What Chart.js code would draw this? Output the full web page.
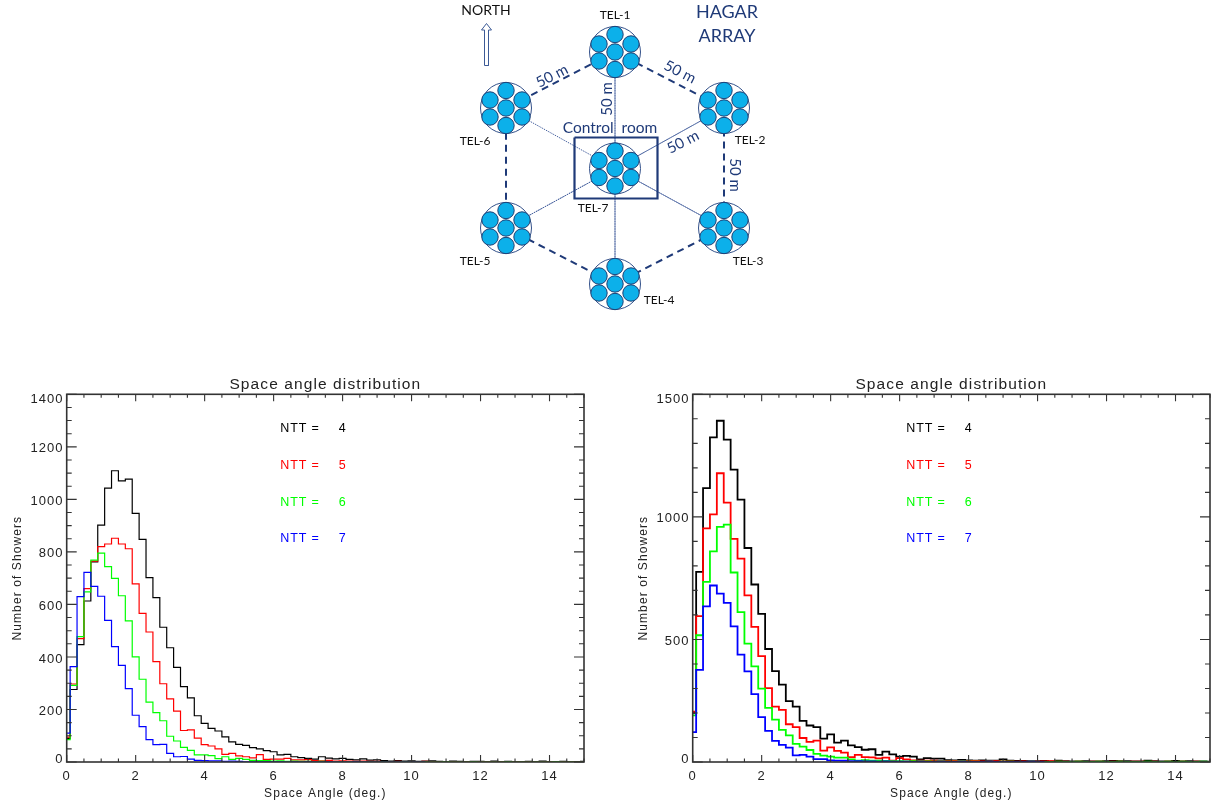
<!DOCTYPE html>
<html><head><meta charset="utf-8">
<style>html,body{margin:0;padding:0;background:#fff;width:1221px;height:805px;overflow:hidden}canvas{position:absolute;display:block}</style>
<script src="https://cdn.jsdelivr.net/npm/chart.js@4"></script>
</head><body>
<canvas id="diagram" width="340" height="330" style="left:440px;top:0"></canvas>
<canvas id="left" width="600" height="440" style="left:0;top:365px"></canvas>
<canvas id="right" width="600" height="440" style="left:626px;top:365px"></canvas>
<script>
// ---------- histogram data ----------
const angleBins = [0,0.2,0.4,0.6,0.8,1,1.2,1.4,1.6,1.8,2,2.2,2.4,2.6,2.8,3,3.2,3.4,3.6,3.8,4,4.2,4.4,4.6,4.8,5,5.2,5.4,5.6,5.8,6,6.2,6.4,6.6,6.8,7,7.2,7.4,7.6,7.8,8,8.2,8.4,8.6,8.8,9,9.2,9.4,9.6,9.8,10,10.2,10.4,10.6,10.8,11,11.2,11.4,11.6,11.8,12,12.2,12.4,12.6,12.8,13,13.2,13.4,13.6,13.8,14,14.2,14.4,14.6,14.8,15];
const nttValues = [4,5,6,7];
const nttColors = ['#000000','#ff0000','#00ff00','#0000ff'];

const leftNtt4 = [90,276,447,613,762,902,1043,1109,1070,1077,947,848,702,626,513,435,360,287,244,176,147,128,118,96,77,67,63,55,50,43,39,27,29,20,17,14,11,20,15,12,14,10,8,12,7,8,5,3,5,3,4,2,3,4,2,1,3,2,1,2,2,1,3,1,2,1,1,2,1,3,1,1,2,1,1,2];
const leftNtt5 = [95,297,470,660,765,820,830,852,830,812,678,566,495,382,298,240,194,120,122,91,66,61,50,29,33,23,20,16,28,10,11,11,14,8,8,9,5,4,6,3,4,3,2,3,2,2,1,1,2,1,1,1,2,1,0,1,1,0,1,0,1,1,0,1,0,1,0,1,0,0,1,0,1,0,1,0];
const leftNtt6 = [85,292,477,648,769,795,744,699,633,537,400,315,228,188,157,98,80,56,44,27,27,24,13,20,10,14,10,6,5,5,3,4,2,3,2,2,1,2,1,1,1,1,0,1,1,0,1,0,0,1,0,0,1,0,0,1,0,0,0,1,0,0,0,0,1,0,0,0,0,0,0,1,0,0,0,0];
const leftNtt7 = [110,363,630,722,669,631,539,439,368,279,178,135,85,66,67,33,20,21,11,6,5,4,4,2,3,2,1,1,1,1,1,1,0,1,0,1,0,0,1,0,0,0,1,0,0,0,0,0,0,0,0,0,0];

const rightNtt4 = [200,776,1117,1324,1392,1315,1193,1070,873,724,604,461,371,316,248,226,168,149,142,95,113,79,87,68,61,50,52,29,42,31,22,25,22,11,16,14,14,8,7,9,7,6,7,5,6,11,5,4,4,3,3,4,2,6,3,2,2,3,2,2,3,4,3,3,2,2,5,3,2,2,4,2,3,2,2,1];
const rightNtt5 = [205,595,953,1010,1178,1058,910,830,680,551,432,301,226,213,154,142,98,82,87,46,60,45,38,20,29,20,19,15,18,5,16,11,7,5,6,6,4,3,4,3,3,4,2,2,3,2,2,1,2,1,1,2,3,1,1,0,1,0,1,1,0,1,1,0,1,1,0,1,0,1,0,1,0,1,0,0];
const rightNtt6 = [190,517,735,859,959,968,773,611,483,390,299,221,173,131,109,74,63,49,33,26,22,18,18,11,5,8,5,6,4,3,3,2,3,2,2,1,2,1,1,2,1,1,0,1,0,1,1,0,0,1,0,0,0,1,0,0,1,0,0,1,0,0,1,0,0,0,1,0,0,1,0,1,0,0,1,0];
const rightNtt7 = [122,376,635,720,687,649,553,438,370,277,183,127,86,70,59,27,29,22,12,12,7,6,5,3,3,2,2,1,2,1,1,1,0,1,0,0,1,0,0,1,0,0,0,1,0,0,0,0,0,1,0,0];

// ---------- axis ticks ----------
const xTickLabels = [0,2,4,6,8,10,12,14];
const xMinorEvery = 0.5;
const leftYLabels = [0,200,400,600,800,1000,1200,1400];
const leftYMinorEvery = 50;
const rightYLabels = [0,500,1000,1500];
const rightYMinorEvery = 100;

// ---------- diagram data (drawn in a coordinate plane of its own) ----------
const telescopeX = [615,724,724,615,506,506,615];
const telescopeY = [52,108,228,284,228,108,168.5];
const mirrorOffsetX = [0,-16,16,0,-16,16,0];
const mirrorOffsetY = [-17.5,-8,-8,0,9,9,17.5];
const ringX = [615,724,724,615,506,506,615];
const ringY = [52,108,228,284,228,108,52];
const spokeTo = [0,1,2,3,4,5];
const roomX = [574.5,657.5,657.5,574.5,574.5];
const roomY = [137.5,137.5,198.5,198.5,137.5];
const arrowX = [484.5,484.5,481.5,486.5,491.5,488.5,488.5,484.5];
const arrowY = [65.5,30,30,23.5,30,30,65.5,65.5];
const diagramText = ['NORTH','TEL-1','HAGAR','ARRAY','50 m','50 m','50 m','50 m','50 m','Control  room','TEL-6','TEL-2','TEL-7','TEL-3','TEL-5','TEL-4'];
const textX = [486,615,727,727,552,680,607,735,683,610,475,750,593,748,475,659];
const textY = [10,15,12,36,76,72,99,175,142,128,141,140,208,261,261,300];
const textAngle = [0,0,0,0,-27,27,-90,90,-27,0,0,0,0,0,0,0];
const textSize = [14,12,18,18,15,15,15,15,15,15.5,12,12,12,12,12,12];
const textNavy = [0,0,1,1,1,1,1,1,1,1,0,0,0,0,0,0];

const NAVY = '#1f3a78', FONT = '"Liberation Sans"';

const idlFrame = {
  id:'idlFrame',
  beforeDraw(chart){
    chart.ctx.letterSpacing = '1.1px';
    const y = chart.scales.y;
    y.getLabelItems().forEach((it,i)=>{
      const n = y.ticks.length-1;
      it.options.translation[1] = y.getPixelForTick(i) + (i===0?-3:(i===n?5:2));
    });
  },
  afterDraw(chart,args,o){
    const {ctx,chartArea:a,scales:{x,y}} = chart;
    ctx.save();
    ctx.letterSpacing='0px';
    ctx.strokeStyle='#333';
    ctx.lineWidth=1.6;
    ctx.strokeRect(a.left,a.top,a.right-a.left,a.bottom-a.top);
    ctx.lineWidth=1.1;
    ctx.beginPath();
    for(let v=0;v<=x.max+1e-6;v+=xMinorEvery){
      const p=x.getPixelForValue(v), len=(Math.abs(v/2-Math.round(v/2))<1e-6)?7:3.5;
      ctx.moveTo(p,a.bottom);ctx.lineTo(p,a.bottom-len);
      ctx.moveTo(p,a.top);ctx.lineTo(p,a.top+len);
    }
    for(let v=0;v<=y.max+1e-6;v+=o.minorEvery){
      const p=y.getPixelForValue(v), len=(o.labels.includes(v))?10:5;
      ctx.moveTo(a.left,p);ctx.lineTo(a.left+len,p);
      ctx.moveTo(a.right,p);ctx.lineTo(a.right-len,p);
    }
    ctx.stroke();
    // NTT key
    ctx.letterSpacing='0.9px';
    ctx.font='12.5px '+FONT;ctx.textBaseline='middle';ctx.textAlign='left';
    nttValues.forEach((n,i)=>{
      ctx.fillStyle=nttColors[i];
      const yy=a.top+34.5+i*36.7;
      ctx.fillText('NTT =',a.left+213.5,yy);
      ctx.fillText(String(n),a.left+272,yy);
    });
    ctx.restore();
  }
};

function histogram(id,series,yLabels,yMax,minorEvery,lw){
  new Chart(document.getElementById(id),{
    type:'line',
    data:{labels:angleBins,datasets:series.map((s,i)=>({
      label:'NTT = '+nttValues[i],data:s,borderColor:nttColors[i],borderWidth:lw,
      stepped:'middle',pointRadius:0,fill:false,order:series.length-i
    }))},
    options:{
      responsive:false,animation:false,
      layout:{padding:{right:16,top:0,left:0,bottom:0},autoPadding:false},
      plugins:{
        legend:{display:false},tooltip:{enabled:false},
        title:{display:true,fullSize:false,text:'Space angle distribution',color:'#222',
          font:{family:FONT,size:15.5,weight:'normal'},padding:{top:10,bottom:0.7}},
        idlFrame:{labels:yLabels,minorEvery}
      },
      scales:{
        x:{type:'linear',min:0,max:15,
          afterFit(s){s.height=43},
          grid:{display:false,drawTicks:false},border:{display:false},
          afterBuildTicks(s){s.ticks=xTickLabels.map(v=>({value:v}))},
          ticks:{maxRotation:0,autoSkip:false,color:'#222',padding:7,font:{family:FONT,size:13},callback:v=>String(v)},
          title:{display:true,text:'Space Angle (deg.)',color:'#222',font:{family:FONT,size:12},padding:{top:0,bottom:4}}},
        y:{min:0,max:yMax,
          afterFit(s){s.width=66.7},
          grid:{display:false,drawTicks:false},border:{display:false},
          afterBuildTicks(s){s.ticks=yLabels.map(v=>({value:v}))},
          ticks:{autoSkip:false,color:'#222',padding:3,font:{family:FONT,size:13},callback:v=>String(v)},
          title:{display:true,text:'Number of Showers',color:'#222',font:{family:FONT,size:12},padding:{top:10,bottom:0}}}
      }
    },
    plugins:[idlFrame]
  });
}
histogram('left',[leftNtt4,leftNtt5,leftNtt6,leftNtt7],leftYLabels,1400,leftYMinorEvery,1.2);
histogram('right',[rightNtt4,rightNtt5,rightNtt6,rightNtt7],rightYLabels,1500,rightYMinorEvery,1.8);

// ---------- array diagram ----------
const pts=(xs,ys)=>xs.map((x,i)=>({x,y:ys[i]}));
const spokes=[];spokeTo.forEach(i=>{spokes.push({x:telescopeX[6],y:telescopeY[6]},{x:telescopeX[i],y:telescopeY[i]})});
const mirrors=[];telescopeX.forEach((tx,t)=>mirrorOffsetX.forEach((ox,m)=>mirrors.push({x:tx+ox,y:telescopeY[t]+mirrorOffsetY[m]})));
const line=(data,color,w,dash,order)=>({type:'scatter',data,showLine:true,borderColor:color,borderWidth:w,borderDash:dash,pointRadius:0,order,tension:0});
const diagramLabels={
  id:'diagramLabels',
  afterDraw(chart){
    const {ctx,scales:{x,y}}=chart;
    ctx.save();ctx.textAlign='center';ctx.textBaseline='middle';
    diagramText.forEach((t,i)=>{
      ctx.save();
      ctx.translate(x.getPixelForValue(textX[i]),y.getPixelForValue(textY[i]));
      ctx.rotate(textAngle[i]*Math.PI/180);
      ctx.font=textSize[i]+'px Lato';
      ctx.fillStyle=textNavy[i]?NAVY:'#111';
      ctx.fillText(t,0,0);
      ctx.restore();
    });
    ctx.restore();
  }
};
new Chart(document.getElementById('diagram'),{
  type:'scatter',
  data:{datasets:[
    {data:mirrors,pointRadius:8.2,pointBackgroundColor:'#0cb0ea',pointBorderColor:'#1c3f74',pointBorderWidth:1,order:1},
    {data:pts(telescopeX,telescopeY),pointRadius:25.5,pointBackgroundColor:'#fff',pointBorderColor:'#33518a',pointBorderWidth:1,order:2},
    line(pts(roomX,roomY),NAVY,2.2,[],3),
    line(pts(arrowX,arrowY),'#3c5a96',1,[],3),
    line(pts(ringX,ringY),NAVY,2,[7,5],4),
    line(spokes,'#4a64a0',1,[1.5,1],5)
  ]},
  options:{
    responsive:false,animation:false,layout:{padding:0,autoPadding:false},
    plugins:{legend:{display:false},tooltip:{enabled:false},title:{display:false}},
    scales:{
      x:{type:'linear',display:false,min:440,max:780},
      y:{type:'linear',display:false,min:0,max:330,reverse:true}
    }
  },
  plugins:[diagramLabels]
});
</script>
</body></html>
